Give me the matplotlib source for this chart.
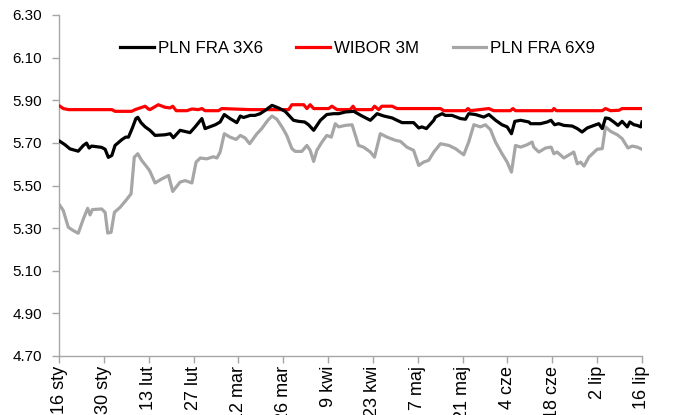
import matplotlib
matplotlib.use("Agg")
import matplotlib.pyplot as plt

plt.rcParams['font.family'] = ['Liberation Sans', 'DejaVu Sans']

# x positions are calendar days counted from 16 sty
tick_labels = ["16 sty", "30 sty", "13 lut", "27 lut", "12 mar", "26 mar", "9 kwi",
               "23 kwi", "7 maj", "21 maj", "4 cze", "18 cze", "2 lip", "16 lip"]
tick_days = [0, 14, 28, 42, 56, 70, 84, 98, 112, 126, 140, 154, 168, 182]

fra3x6_days = [0.3, 1.9, 3.4, 6.0, 7.6, 8.6, 9.4, 10.2, 13.3, 14.4, 15.4, 16.5, 17.5, 19.6, 20.8,
               21.7, 22.9, 24.0, 24.6, 25.6, 26.9, 28.4, 30.0, 33.1, 34.7, 35.7, 37.8, 40.9, 42.5,
               44.6, 45.6, 48.8, 50.3, 51.6, 53.4, 55.5, 56.6, 57.6, 59.7, 61.2, 62.8, 64.4, 66.5,
               68.5, 70.6, 73.2, 74.8, 76.7, 77.9, 79.5, 81.6, 83.6, 85.7, 87.3, 89.4, 92.0, 94.6,
               97.2, 99.3, 101.4, 104.0, 105.5, 107.1, 110.7, 112.3, 113.3, 114.7, 117.0, 117.5,
               119.6, 120.6, 122.7, 125.3, 126.9, 127.9, 130.0, 132.6, 134.2, 136.3, 138.3, 139.9,
               141.25, 142.3, 144.1, 146.7, 147.2, 150.3, 152.4, 153.6, 154.7, 156.0, 157.6, 160.2,
               161.8, 163.3, 164.9, 166.5, 168.5, 169.6, 170.6, 171.7, 173.2, 174.5, 175.8, 177.4,
               178.2, 179.5, 180.5, 181.6, 182.0]
fra3x6 = [5.707, 5.691, 5.672, 5.661, 5.688, 5.699, 5.676, 5.685, 5.679, 5.670, 5.632, 5.641, 5.688,
          5.715, 5.727, 5.727, 5.770, 5.814, 5.820, 5.795, 5.775, 5.759, 5.735, 5.738, 5.743, 5.724,
          5.759, 5.748, 5.775, 5.814, 5.767, 5.785, 5.798, 5.833, 5.814, 5.795, 5.826, 5.819, 5.829,
          5.829, 5.837, 5.853, 5.876, 5.864, 5.848, 5.806, 5.801, 5.798, 5.785, 5.759, 5.806, 5.833,
          5.837, 5.837, 5.845, 5.848, 5.826, 5.806, 5.837, 5.826, 5.817, 5.806, 5.795, 5.795, 5.770,
          5.775, 5.767, 5.806, 5.821, 5.837, 5.829, 5.829, 5.814, 5.811, 5.837, 5.833, 5.821, 5.833,
          5.806, 5.785, 5.775, 5.743, 5.801, 5.806, 5.798, 5.790, 5.790, 5.798, 5.806, 5.785, 5.790,
          5.782, 5.779, 5.767, 5.751, 5.770, 5.779, 5.790, 5.767, 5.817, 5.814, 5.798, 5.782, 5.801,
          5.775, 5.798, 5.785, 5.782, 5.775, 5.798]

wibor_days = [0.3, 1.35, 3.0, 16.5, 17.5, 22.7, 23.75, 26.9, 27.9, 28.4, 31.0, 33.1, 34.7, 35.5,
              36.6, 39.9, 41.5, 43.5, 44.6, 45.6, 49.8, 50.8, 59.7, 71.7, 72.7, 76.4, 77.4, 78.4,
              79.5, 84.2, 85.2, 86.8, 90.9, 91.8, 92.5, 97.7, 98.5, 99.8, 100.8, 104.0, 105.5,
              115.9, 119.1, 120.1, 126.9, 127.7, 128.4, 134.2, 135.7, 140.9, 141.7, 142.5, 154.0,
              154.5, 155.3, 169.6, 170.6, 172.2, 174.8, 175.8, 182.0]
wibor = [5.872, 5.861, 5.856, 5.856, 5.848, 5.848, 5.856, 5.872, 5.859, 5.856, 5.879, 5.867, 5.864,
         5.872, 5.851, 5.851, 5.859, 5.856, 5.861, 5.851, 5.851, 5.861, 5.856, 5.856, 5.879, 5.879,
         5.861, 5.879, 5.861, 5.861, 5.872, 5.856, 5.856, 5.872, 5.856, 5.856, 5.872, 5.856, 5.872,
         5.872, 5.861, 5.861, 5.861, 5.851, 5.851, 5.861, 5.851, 5.861, 5.851, 5.851, 5.861, 5.851,
         5.851, 5.861, 5.851, 5.851, 5.861, 5.851, 5.853, 5.861, 5.861]

fra6x9_days = [0.3, 1.35, 2.9, 4.5, 6.0, 7.6, 8.95, 9.7, 10.4, 13.3, 14.4, 15.2, 16.25, 17.3, 19.1,
               21.1, 22.5, 23.5, 24.6, 25.8, 27.9, 28.4, 30.0, 32.1, 34.2, 35.5, 37.8, 39.4, 41.5,
               42.8, 44.1, 46.1, 48.2, 49.3, 50.3, 51.6, 53.4, 55.3, 56.6, 58.1, 59.5, 61.8, 63.3,
               64.4, 65.2, 66.5, 68.0, 69.6, 71.1, 72.7, 73.75, 75.8, 77.4, 78.4, 79.5, 80.5, 82.1,
               83.6, 85.0, 86.25, 87.3, 89.4, 91.5, 93.5, 95.1, 97.2, 98.5, 100.3, 102.4, 105.0,
               106.6, 108.6, 110.7, 112.3, 113.85, 115.4, 117.0, 119.1, 121.7, 123.75, 126.35,
               127.9, 129.5, 131.6, 133.1, 134.7, 136.25, 138.3, 139.9, 141.25, 142.5, 144.1, 146.1,
               147.7, 148.2, 149.8, 151.9, 153.65, 154.5, 155.5, 157.6, 160.7, 161.8, 162.8, 163.9,
               165.4, 168.0, 169.6, 170.6, 172.2, 174.3, 175.8, 177.6, 178.95, 180.5, 182.0]
fra6x9 = [5.406, 5.382, 5.304, 5.288, 5.276, 5.343, 5.393, 5.362, 5.387, 5.390, 5.374, 5.277, 5.280,
          5.374, 5.398, 5.434, 5.461, 5.633, 5.649, 5.618, 5.578, 5.566, 5.512, 5.531, 5.547, 5.472,
          5.516, 5.523, 5.512, 5.610, 5.629, 5.625, 5.635, 5.629, 5.657, 5.743, 5.727, 5.716, 5.735,
          5.723, 5.696, 5.743, 5.767, 5.790, 5.806, 5.826, 5.811, 5.775, 5.735, 5.673, 5.660, 5.660,
          5.688, 5.665, 5.613, 5.665, 5.704, 5.735, 5.727, 5.790, 5.775, 5.782, 5.785, 5.688, 5.680,
          5.657, 5.633, 5.743, 5.727, 5.712, 5.707, 5.680, 5.665, 5.594, 5.610, 5.618, 5.657, 5.696,
          5.688, 5.673, 5.644, 5.704, 5.785, 5.775, 5.785, 5.762, 5.704, 5.649, 5.610, 5.563, 5.688,
          5.680, 5.691, 5.704, 5.680, 5.657, 5.676, 5.680, 5.649, 5.657, 5.629, 5.657, 5.602, 5.610,
          5.591, 5.633, 5.670, 5.673, 5.775, 5.754, 5.738, 5.720, 5.676, 5.685, 5.680, 5.670]

y_ticks = [4.70, 4.90, 5.10, 5.30, 5.50, 5.70, 5.90, 6.10, 6.30]

fig = plt.figure(figsize=(6.75, 4.15), dpi=100)
ax = fig.add_axes([59/675, 1 - 356/415, (642 - 59)/675, (356 - 15)/415])

axis_gray = '#A6A6A6'
l3, = ax.plot(fra6x9_days, fra6x9, color='#A6A6A6', lw=2.3, label='PLN FRA 6X9', zorder=2)
l2, = ax.plot(wibor_days, wibor, color='#FF0000', lw=2.3, label='WIBOR 3M', zorder=3)
l1, = ax.plot(fra3x6_days, fra3x6, color='#000000', lw=2.3, label='PLN FRA 3X6', zorder=4)

ax.set_xlim(tick_days[0], tick_days[-1])
ax.set_ylim(y_ticks[0], y_ticks[-1])
ax.set_yticks(y_ticks)
ax.set_yticklabels([f"{v:.2f}" for v in y_ticks])
ax.set_xticks(tick_days)
ax.set_xticklabels(tick_labels, rotation=90, va='top', ha='center')

for s in ['top', 'right']:
    ax.spines[s].set_visible(False)
for s in ['left', 'bottom']:
    ax.spines[s].set_color(axis_gray)
    ax.spines[s].set_linewidth(1.0)
ax.tick_params(axis='both', colors=axis_gray, labelcolor='black',
               direction='out', length=5, width=1.0)
ax.tick_params(axis='y', pad=7, labelsize=11)
ax.tick_params(axis='x', pad=2, labelsize=13)

leg = ax.legend(handles=[l1, l2, l3], loc='center', bbox_to_anchor=(0.512, 0.902), ncol=3,
                frameon=False, fontsize=12.2, handlelength=2.0, handletextpad=0.2,
                columnspacing=2.0)

fig.savefig('out.png', dpi=100)
